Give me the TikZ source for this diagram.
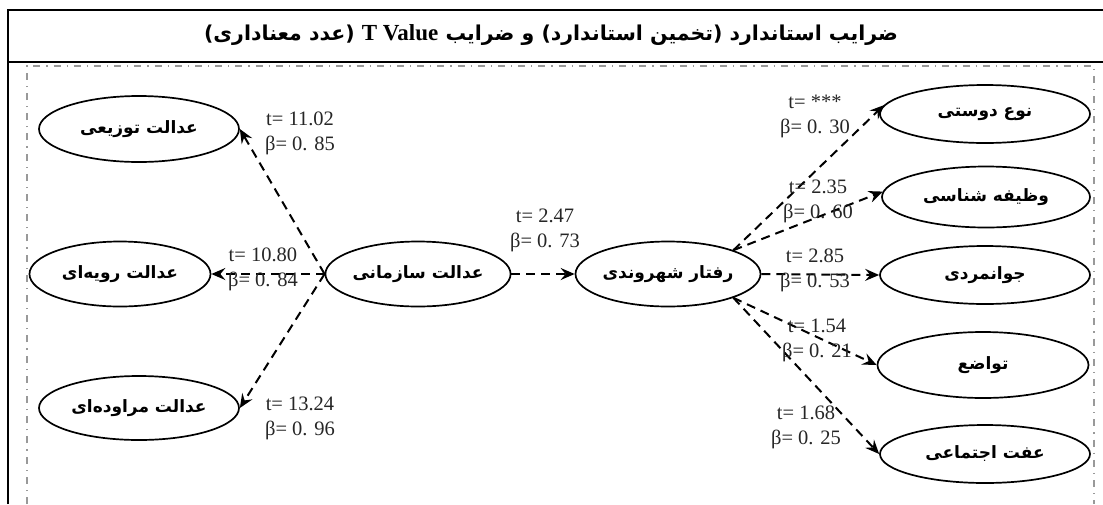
\documentclass[tikz,border=0pt]{standalone}
\usepackage{fontspec}
\setmainfont{Liberation Serif}
\newfontfamily\fa[Script=Arabic]{DejaVu Sans}
\TeXXeTstate=1
\usetikzlibrary{shapes.geometric,arrows.meta}
\tikzset{
 lat/.style={ellipse, draw=black, line width=1.7pt, inner sep=0pt, font=\fa\bfseries\fontsize{17}{20}\selectfont},
 arr/.style={-{Stealth[length=14pt,width=12pt,inset=5pt]}, line width=2pt, dash pattern=on 9pt off 6pt},
 lab/.style={font=\fontsize{20.5}{25}\selectfont, align=center, inner sep=0pt, text=black!85},
 frame/.style={line width=2.6pt},
 dd/.style={draw=black!40, line width=1.3pt, dash pattern=on 7pt off 6pt on 1.2pt off 6pt}
}
\begin{document}
\begin{tikzpicture}[x=1pt,y=-1pt]
\useasboundingbox (0,0) rectangle (1103,504);
% frame
\draw[frame] (8,504) -- (8,10) -- (1103,10);
\draw[frame] (8,62) -- (1103,62);
\draw[dd] (27,504) -- (27,66) -- (1094,66) -- (1094,504);
% title
\node[inner sep=0pt] (title) at (551,35) {\fa\bfseries\fontsize{20.5}{24}\selectfont\beginR ضرایب استاندارد (تخمین استاندارد) و ضرایب {\rmfamily\bfseries\fontsize{23}{26}\selectfont\beginL T Value\endL} (عدد معناداری)\endR};
% nodes
\node[lat, minimum width=200pt, minimum height=66pt] (tozi) at (139,129) {\beginR عدالت توزیعی\endR};
\node[lat, minimum width=181pt, minimum height=65pt] (ravi) at (120,274) {\beginR عدالت رویه‌ای\endR};
\node[lat, minimum width=200pt, minimum height=64pt] (morav) at (139,408) {\beginR عدالت مراوده‌ای\endR};
\node[lat, minimum width=177pt, minimum height=65pt] (org) at (418,274) {\beginR عدالت سازمانی\endR};
\node[lat, minimum width=172pt, minimum height=65pt] (cit) at (668,274) {\beginR رفتار شهروندی\endR};
\node[lat, minimum width=210pt, minimum height=58pt] (nd) at (985,114) {\beginR نوع دوستی\endR};
\node[lat, minimum width=208pt, minimum height=61pt] (vz) at (986,197) {\beginR وظیفه شناسی\endR};
\node[lat, minimum width=210pt, minimum height=58pt] (jv) at (985,275) {\beginR جوانمردی\endR};
\node[lat, minimum width=211pt, minimum height=66pt] (tv) at (983,365) {\beginR تواضع\endR};
\node[lat, minimum width=210pt, minimum height=58pt] (ef) at (985,454) {\beginR عفت اجتماعی\endR};
% connectors
\draw[arr] (org.west) -- (tozi.east);
\draw[arr] (org.west) -- (ravi.east);
\draw[arr] (org.west) -- (morav.east);
\draw[arr] (org.east) -- (cit.west);
\draw[arr] (cit.20) -- (nd.175);
\draw[arr] (cit.20) -- (vz.177);
\draw[arr] (cit.east) -- (jv.west);
\draw[arr] (cit.-20) -- (tv.west);
\draw[arr] (cit.-20) -- (ef.west);
% labels
\node[lab] (l1) at (300,133) {t= 11.02\\β= 0. 85};
\node[lab] (l2) at (263,269) {t= 10.80\\β= 0. 84};
\node[lab] (l3) at (300,418) {t= 13.24\\β= 0. 96};
\node[lab] (l4) at (545,230) {t= 2.47\\β= 0. 73};
\node[lab] (l5) at (815,116) {t= ***\\β= 0. 30};
\node[lab] (l6) at (818,201) {t= 2.35\\β= 0. 60};
\node[lab] (l7) at (815,270) {t= 2.85\\β= 0. 53};
\node[lab] (l8) at (817,340) {t= 1.54\\β= 0. 21};
\node[lab] (l9) at (806,427) {t= 1.68\\β= 0. 25};
\end{tikzpicture}
\end{document}
